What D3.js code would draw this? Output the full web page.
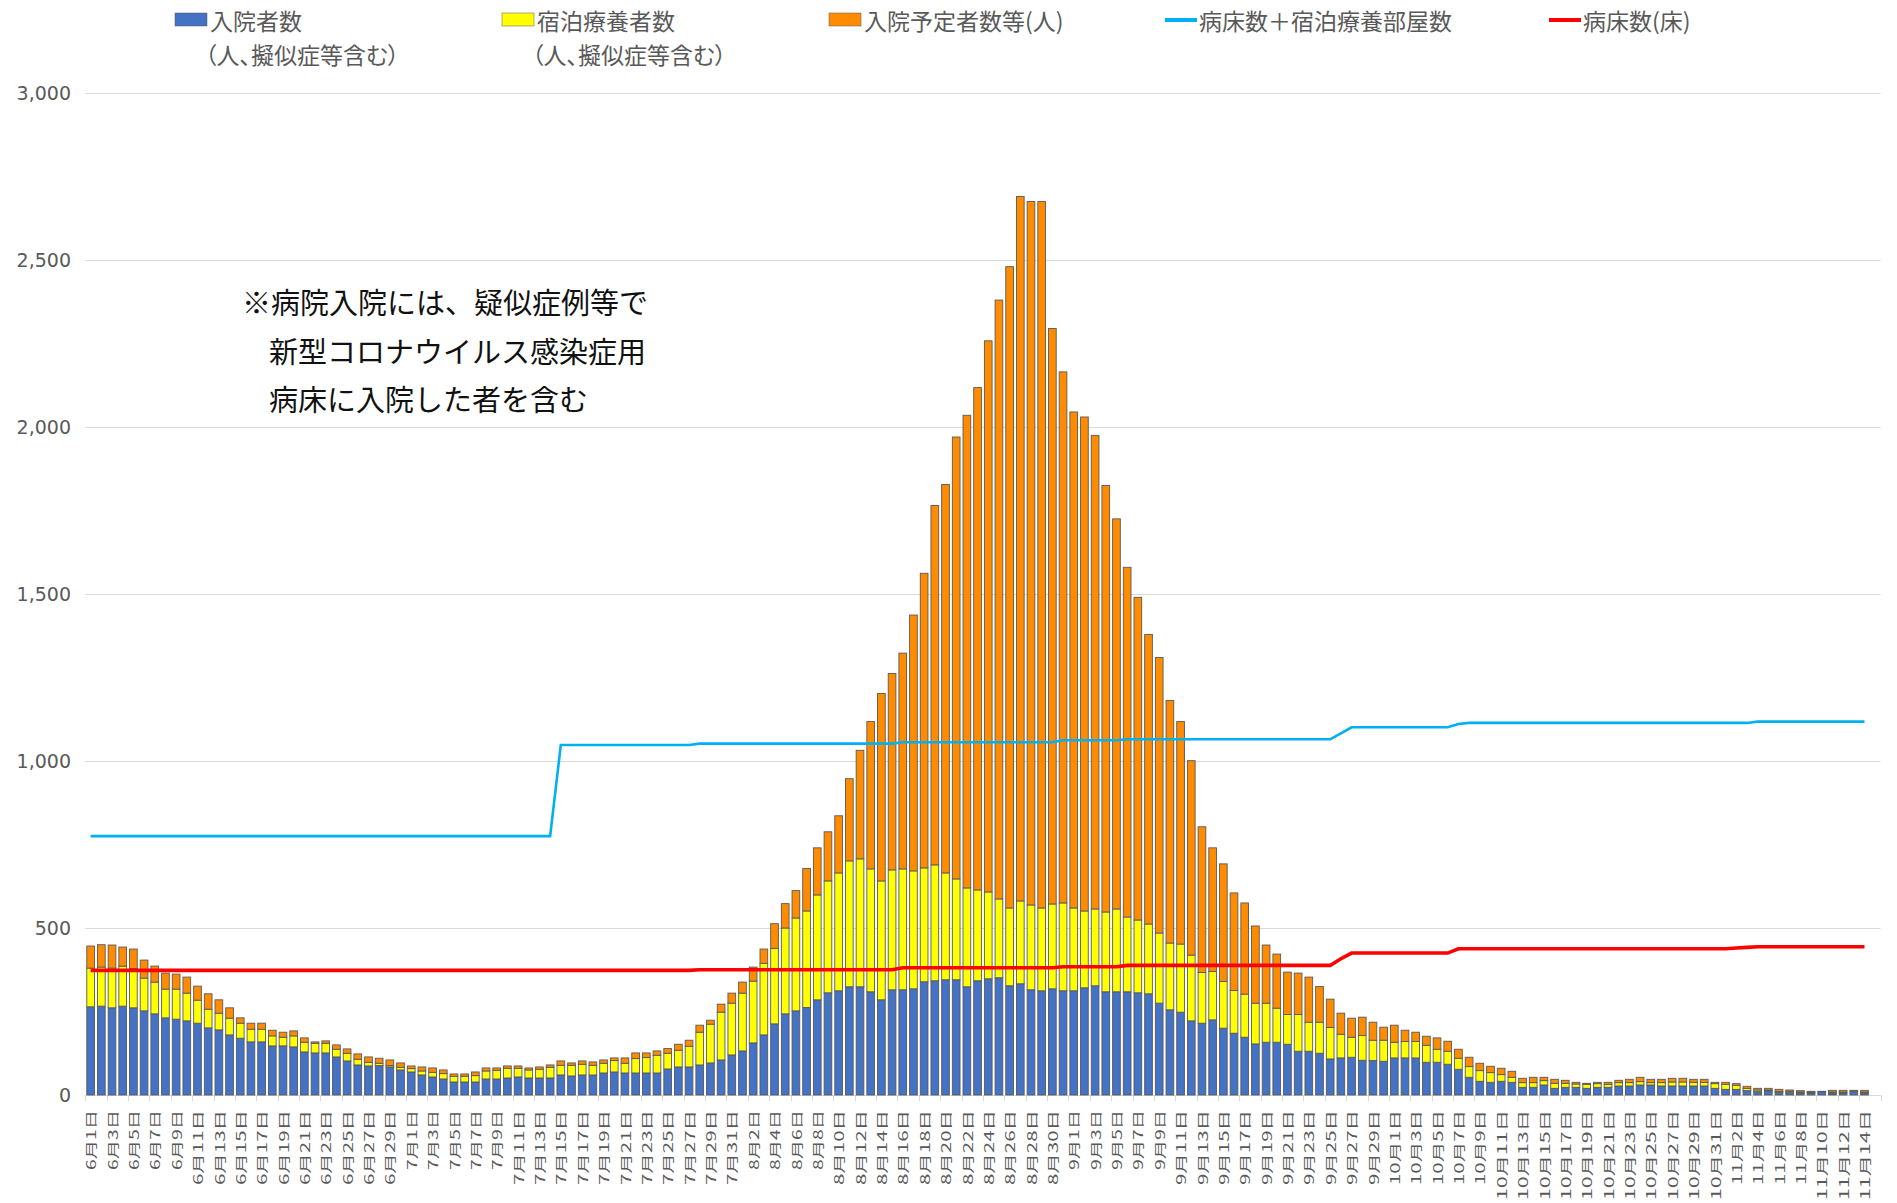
<!DOCTYPE html>
<meta charset="utf-8">
<style>
body { margin: 0; background: #fff; }
.grid line { stroke: #d9d9d9; stroke-width: 1; }
.ytick { font-family: "DejaVu Sans", sans-serif; font-size: 19px; fill: #595959; }
.xtick { font-family: "Noto Sans CJK JP", sans-serif; font-size: 16px; fill: #595959; }
.legend text { font-family: "Noto Sans CJK JP", sans-serif; font-size: 23px; fill: #595959; font-feature-settings: "palt"; }
.note { font-family: "Noto Sans CJK JP", sans-serif; font-size: 29px; fill: #111; }
</style>
<svg width="1897" height="1203"></svg>
<script src="https://cdn.jsdelivr.net/npm/d3@7"></script>
<script>

// 6/1 .. 11/15 (last slot is empty in the source chart)
var dates = d3.timeDay.range(new Date(2020, 5, 1), new Date(2020, 10, 16));
var fmt = d3.timeFormat("%-m月%-d日");

var seriesNames = ["入院者数", "宿泊療養者数", "入院予定者数等(人)"];
var lineNames = ["病床数＋宿泊療養部屋数", "病床数(床)"];
var yTicks = [0, 500, 1000, 1500, 2000, 2500, 3000];

// 入院者数（人、擬似症等含む）
var hospitalized = [
  264,266,261,266,261,252,243,231,227,222,215,201,195,180,170,159,159,147,147,144,
  129,126,126,114,102,90,87,88,84,75,69,60,54,48,39,39,39,48,48,51,
  54,51,51,51,60,57,60,60,66,69,66,66,66,66,78,84,84,90,96,105,
  120,132,156,180,213,243,252,262,285,306,312,324,324,309,285,315,315,318,339,342,
  345,345,324,342,348,351,327,333,315,312,318,312,312,321,327,309,309,309,306,303,
  275,255,248,222,215,225,200,185,173,153,158,158,152,131,131,125,108,111,113,104,
  103,101,111,111,111,98,98,92,77,53,41,38,41,38,23,23,30,20,23,23,
  20,23,23,27,27,30,30,27,27,27,27,27,20,17,17,13,10,13,8,7,
  6,6,10,6,6,11,6
];

// 宿泊療養者数（人、擬似症等含む）
var hotel = [
  116,117,119,120,118,98,95,86,90,83,69,56,50,50,45,38,38,30,26,33,
  29,29,29,23,23,17,11,7,4,8,10,12,14,16,17,17,19,24,26,29,
  26,24,26,32,29,32,32,29,29,34,29,43,46,53,47,50,62,98,116,143,
  155,173,185,214,226,257,278,289,314,335,353,377,383,368,356,359,362,353,341,347,
  320,302,296,272,260,236,233,248,254,248,254,263,248,230,230,239,248,224,218,209,
  210,200,204,197,152,145,140,128,129,122,117,102,89,110,87,93,94,71,60,74,
  61,63,47,49,49,51,39,39,33,32,32,29,20,15,14,14,13,15,12,10,
  12,11,9,10,10,10,7,10,12,12,11,11,14,15,12,7,5,2,3,4,
  3,2,0,3,3,0,3
];

// 入院予定者数等(人)
var pending = [
  66,67,69,57,58,54,48,48,45,48,42,46,40,31,16,18,18,17,15,15,
  13,4,7,13,13,16,16,15,17,13,8,12,13,11,7,7,11,9,7,7,
  7,6,7,7,13,7,10,10,10,8,16,17,14,13,14,18,18,21,12,24,
  30,33,42,43,74,73,82,127,141,147,171,246,325,441,561,588,646,766,882,1076,
  1163,1323,1415,1504,1650,1793,1920,2109,2106,2115,1723,1590,1485,1479,1418,1277,1168,1047,966,867,
  825,726,666,582,436,370,352,292,273,231,174,162,127,124,135,107,85,63,57,55,
  54,39,51,34,28,27,34,30,27,28,22,19,19,18,13,16,10,12,9,5,
  3,4,6,7,10,13,10,10,11,11,9,9,4,6,5,6,5,5,6,4,
  4,3,1,5,5,3,5
];

// 病床数＋宿泊療養部屋数
var capacityTotal = [
  775,775,775,775,775,775,775,775,775,775,775,775,775,775,775,775,775,775,775,775,
  775,775,775,775,775,775,775,775,775,775,775,775,775,775,775,775,775,775,775,775,
  775,775,775,775,1048,1048,1048,1048,1048,1048,1048,1048,1048,1048,1048,1048,1048,1052,1052,1052,
  1052,1052,1052,1052,1052,1052,1052,1052,1052,1052,1052,1052,1052,1052,1052,1052,1056,1056,1056,1056,
  1056,1056,1056,1056,1056,1056,1056,1056,1056,1056,1056,1062,1062,1062,1062,1062,1062,1065,1065,1065,
  1065,1065,1065,1065,1065,1065,1065,1065,1065,1065,1065,1065,1065,1065,1065,1065,1065,1083,1101,1101,
  1101,1101,1101,1101,1101,1101,1101,1101,1111,1114,1114,1114,1114,1114,1114,1114,1114,1114,1114,1114,
  1114,1114,1114,1114,1114,1114,1114,1114,1114,1114,1114,1114,1114,1114,1114,1114,1118,1118,1118,1118,
  1118,1118,1118,1118,1118,1118,1118
];

// 病床数(床)
var beds = [
  373,373,373,373,373,373,373,373,373,373,373,373,373,373,373,373,373,373,373,373,
  373,373,373,373,373,373,373,373,373,373,373,373,373,373,373,373,373,373,373,373,
  373,373,373,373,373,373,373,373,373,373,373,373,373,373,373,373,373,375,375,375,
  375,375,375,375,375,375,375,375,375,375,375,375,375,375,375,375,381,381,381,381,
  381,381,381,381,381,381,381,381,381,381,381,384,384,384,384,384,384,388,388,388,
  388,388,388,388,388,388,388,388,388,388,388,388,388,388,388,388,388,408,425,425,
  425,425,425,425,425,425,425,425,438,438,438,438,438,438,438,438,438,438,438,438,
  438,438,438,438,438,438,438,438,438,438,438,438,438,438,440,442,444,444,444,444,
  444,444,444,444,444,444,444
];

var svg = d3.select("svg"),
    width = +svg.attr("width"),
    height = +svg.attr("height");

svg.append("rect").attr("width", width).attr("height", height).attr("fill", "#fff");

var x = d3.scaleBand()
    .domain(dates)
    .range([85.3, 1880.5])
    .paddingInner(0.28)
    .paddingOuter(0.14);

var y = d3.scaleLinear()
    .domain([0, 3000])
    .range([1095, 93]);

var cx = function(d) { return x(d) + x.bandwidth() / 2; };

// gridlines + y labels
var grid = svg.append("g").attr("class", "grid");
grid.selectAll("line")
    .data(yTicks)
    .enter().append("line")
    .attr("x1", 85.3).attr("x2", 1880.5)
    .attr("y1", function(d) { return Math.round(y(d)) + 0.5; })
    .attr("y2", function(d) { return Math.round(y(d)) + 0.5; });

svg.append("g").selectAll("text")
    .data(yTicks)
    .enter().append("text")
    .attr("class", "ytick")
    .attr("x", 71)
    .attr("y", function(d) { return y(d); })
    .attr("text-anchor", "end")
    .attr("dominant-baseline", "central")
    .text(d3.format(","));

// x tick marks every 2 days
var step = x.step();
grid.append("g").selectAll("line")
    .data(d3.range(0, dates.length + 1, 2))
    .enter().append("line")
    .attr("x1", function(i) { return Math.round(85.3 + i * step) + 0.5; })
    .attr("x2", function(i) { return Math.round(85.3 + i * step) + 0.5; })
    .attr("y1", 1095).attr("y2", 1101);

// stacked bars
var rows = hospitalized.map(function(v, i) {
  return { date: dates[i], a: v, b: hotel[i], c: pending[i] };
});
var stack = d3.stack().keys(["a", "b", "c"]);
var colors = ["#4472C4", "#FFFF00", "#FF8C00"];

svg.append("g")
  .selectAll("g")
  .data(stack(rows))
  .enter().append("g")
    .attr("fill", function(d, i) { return colors[i]; })
  .selectAll("rect")
  .data(function(d) { return d; })
  .enter().append("rect")
    .attr("x", function(d) { return x(d.data.date); })
    .attr("width", x.bandwidth())
    .attr("y", function(d) { return y(d[1]); })
    .attr("height", function(d) { return Math.max(0, y(d[0]) - y(d[1])); })
    .attr("stroke", "#595959")
    .attr("stroke-width", 0.9);

// lines
var line = d3.line()
    .x(function(d, i) { return cx(dates[i]); })
    .y(function(d) { return y(d); });

svg.append("path")
    .datum(capacityTotal)
    .attr("fill", "none")
    .attr("stroke", "#00B0F0")
    .attr("stroke-width", 2.6)
    .attr("d", line);

svg.append("path")
    .datum(beds)
    .attr("fill", "none")
    .attr("stroke", "#FF0000")
    .attr("stroke-width", 3.6)
    .attr("d", line);

// x labels
svg.append("g").selectAll("text")
    .data(dates.slice(0, hospitalized.length).filter(function(d, i) { return i % 2 === 0; }))
    .enter().append("text")
    .attr("class", "xtick")
    .attr("text-anchor", "end")
    .attr("dominant-baseline", "central")
    .attr("transform", function(d) { return "translate(" + cx(d) + ",1110) rotate(-90) scale(1,0.78)"; })
    .attr("textLength", function(d) { return fmt(d).length * 15; })
    .attr("lengthAdjust", "spacingAndGlyphs")
    .text(fmt);

// legend
var legend = svg.append("g").attr("class", "legend");
var boxX = [175, 502, 829];
seriesNames.forEach(function(name, i) {
  legend.append("rect")
      .attr("x", boxX[i]).attr("y", 13)
      .attr("width", 32).attr("height", 13)
      .attr("fill", colors[i])
      .attr("stroke", "#595959").attr("stroke-width", 0.5);
  legend.append("text")
      .attr("x", boxX[i] + 35).attr("y", 20)
      .attr("dominant-baseline", "central")
      .text(name);
  if (i < 2) {
    legend.append("text")
        .attr("x", boxX[i] + 30).attr("y", 54)
        .attr("dominant-baseline", "central")
        .text("（人、擬似症等含む）");
  }
});
var lineX = [1165, 1549], lineColors = ["#00B0F0", "#FF0000"];
lineNames.forEach(function(name, i) {
  legend.append("line")
      .attr("x1", lineX[i]).attr("x2", lineX[i] + 32)
      .attr("y1", 20).attr("y2", 20)
      .attr("stroke", lineColors[i]).attr("stroke-width", 4);
  legend.append("text")
      .attr("x", lineX[i] + 34).attr("y", 20)
      .attr("dominant-baseline", "central")
      .text(name);
});

// note
var note = svg.append("text").attr("class", "note");
note.append("tspan").attr("x", 242).attr("y", 301).attr("dominant-baseline", "central").text("※病院入院には、疑似症例等で");
note.append("tspan").attr("x", 269).attr("y", 350).attr("dominant-baseline", "central").text("新型コロナウイルス感染症用");
note.append("tspan").attr("x", 269).attr("y", 398).attr("dominant-baseline", "central").text("病床に入院した者を含む");

</script>
